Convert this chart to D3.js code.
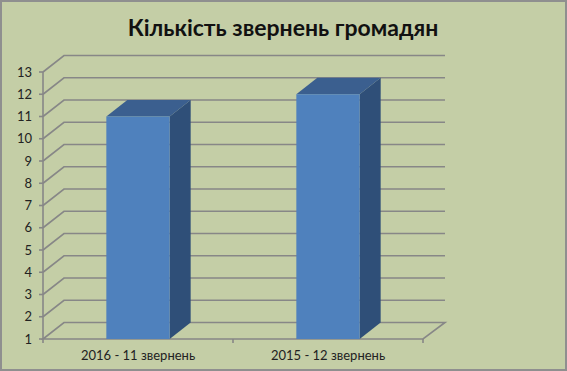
<!DOCTYPE html>
<html>
<head>
<meta charset="utf-8">
<script src="https://cdn.jsdelivr.net/npm/d3@7"></script>
<style>
  html, body { margin: 0; padding: 0; background: #C4CEA6; }
  svg { display: block; }
</style>
</head>
<body>
<script>
const title = "Кількість звернень громадян";
const categories = ["2016 - 11 звернень", "2015 - 12 звернень"];
const values = [11, 12];
const yTicks = [1, 2, 3, 4, 5, 6, 7, 8, 9, 10, 11, 12, 13];

const W = 567, H = 371;
const dx = 21, dy = -16.5;
const font = "Lato, Calibri, 'Open Sans', sans-serif";

const svg = d3.select("body").append("svg").attr("width", W).attr("height", H);
svg.append("rect").attr("x", 1).attr("y", 1).attr("width", W - 2).attr("height", H - 2)
  .attr("fill", "#C4CEA6").attr("stroke", "#8F8F8F").attr("stroke-width", 2);

svg.append("text").attr("x", 283).attr("y", 36).attr("text-anchor", "middle")
  .attr("font-family", font).attr("font-weight", "bold").attr("font-size", 23)
  .attr("fill", "#111").text(title);

const y = d3.scaleLinear().domain([1, 13]).range([339, 72]);
const x = d3.scaleBand().domain(categories).range([43, 423]).paddingInner(0).paddingOuter(0);

const grid = svg.append("g").attr("fill", "none").attr("stroke", "#878787").attr("stroke-width", 1.6);
yTicks.forEach(t => {
  if (t === 1) return;
  grid.append("path").attr("d", `M43,${y(t)} L${43 + dx},${y(t) + dy} L445,${y(t) + dy}`);
});
// floor
grid.append("path").attr("d", `M43,${y(1)} L${43 + dx},${y(1) + dy} L445,${y(1) + dy} L423,${y(1)} Z`);
// y axis
grid.append("path").attr("d", `M43,${y(13)} L43,${y(1)}`);
yTicks.forEach(t => grid.append("path").attr("d", `M39,${y(t)} L43,${y(t)}`));
// x ticks
[43, 233, 423].forEach(px => grid.append("path").attr("d", `M${px},${y(1)} L${px},${y(1) + 4}`));

svg.append("g").selectAll("text").data(yTicks).join("text")
  .attr("x", 32).attr("y", d => y(d) + 4.5).attr("text-anchor", "end")
  .attr("font-family", font).attr("font-size", 13).attr("fill", "#222").text(d => d);

svg.append("g").selectAll("text").data(categories).join("text")
  .attr("x", d => x(d) + x.bandwidth() / 2).attr("y", 360).attr("text-anchor", "middle")
  .attr("font-family", font).attr("font-size", 13).attr("fill", "#222").text(d => d);

const bars = svg.append("g");
categories.forEach((c, i) => {
  const w = x.bandwidth() / 3;
  const x0 = x(c) + w, x1 = x0 + w;
  const yv = y(values[i]), yb = y(1);
  bars.append("path").attr("fill", "#2F4F78")
    .attr("d", `M${x1},${yv} L${x1 + dx},${yv + dy} L${x1 + dx},${yb + dy} L${x1},${yb} Z`);
  bars.append("path").attr("fill", "#3B5F8F")
    .attr("d", `M${x0},${yv} L${x0 + dx},${yv + dy} L${x1 + dx},${yv + dy} L${x1},${yv} Z`);
  bars.append("rect").attr("x", x0).attr("y", yv).attr("width", w).attr("height", yb - yv)
    .attr("fill", "#4F81BD");
});
</script>
</body>
</html>
